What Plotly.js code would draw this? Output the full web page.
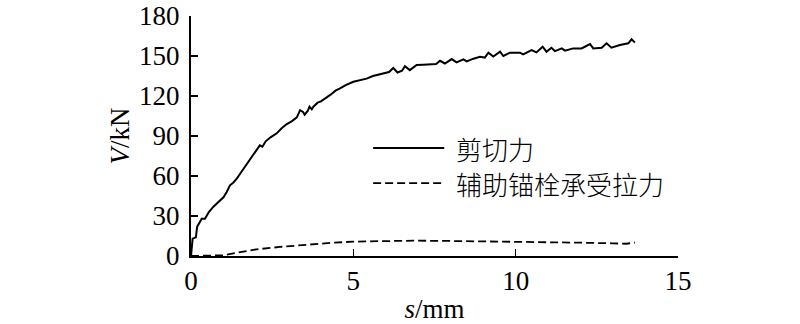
<!DOCTYPE html>
<html>
<head>
<meta charset="utf-8">
<script src="https://cdn.plot.ly/plotly-3.0.1.min.js"></script>
<style>html,body{margin:0;padding:0;background:#fff;}#chart{width:800px;height:324px;}</style>
</head>
<body>
<div id="chart"></div>
<script>
// Shear force curve (s in mm, V in kN)
const shearS = [0,0.03,0.05,0.15,0.19,0.26,0.33,0.43,0.55,0.69,0.85,1.0,1.1,1.2,1.3,1.41,1.55,1.72,1.9,2.05,2.12,2.2,2.3,2.45,2.64,2.8,2.95,3.1,3.26,3.36,3.45,3.5,3.6,3.65,3.72,3.77,3.9,4.0,4.1,4.18,4.3,4.45,4.59,4.75,5.0,5.2,5.41,5.6,5.82,6.0,6.1,6.23,6.36,6.5,6.59,6.74,6.95,7.15,7.36,7.55,7.67,7.82,8.03,8.18,8.39,8.49,8.7,8.9,9.05,9.16,9.31,9.52,9.62,9.82,10.13,10.23,10.49,10.64,10.83,10.95,11.1,11.21,11.42,11.52,11.77,12.03,12.29,12.39,12.65,12.8,12.95,13.21,13.47,13.57,13.67];
const shearV = [0,8,13,14,22,25,28,28,33,37,41,44,48,53,55,58,63,69,75,81,83,82,86,89,92,96,99,101,104,109.4,108,106,109,112,110,112,115,116,118,119,121,124,125.7,128,130.7,132,133,135,136.4,137,138,141,137.6,139,142.4,139.4,143.2,143.5,143.7,144,146.4,144.4,147.7,145.2,147.5,146,148,149.5,148.8,152.5,149.6,153.2,150,152.5,152.5,151.2,154.5,152.7,157,153.2,156.2,153.7,155.7,154,155.7,155.7,159,155.7,156.2,159.5,156.2,158.2,159.5,162.5,160.2];
// Tension carried by auxiliary anchor bolt
const tensionS = [0,0.5,1.0,1.41,2.02,2.74,3.56,4.28,5.0,5.82,6.85,7.88,8.9,9.93,10.96,11.98,13.0,13.4,13.67];
const tensionV = [0,0.1,0.5,2.5,5,6.8,8.5,9.8,10.8,11.3,11.5,11.3,11,11,10.5,10,9.5,9.2,10];
const seriesNames = ['剪切力','辅助锚栓承受拉力'];
const xTicks = [0,5,10,15];
const yTicks = [0,30,60,90,120,150,180];

const serif = 'Liberation Serif';
const cjk = 'Noto Sans CJK SC';

const traces = [
  {x: shearS, y: shearV, name: seriesNames[0], mode: 'lines', line: {color: '#000', width: 2}, showlegend: false},
  {x: tensionS, y: tensionV, name: seriesNames[1], mode: 'lines', line: {color: '#000', width: 1.8, dash: '8px,4px'}, showlegend: false}
];

// Manual legend (longer sample lines than Plotly's built-in legend)
const legRows = [
  {y: 0.45, dash: 'solid', w: 2},
  {y: 0.304, dash: '8px,4px', w: 1.8}
];
const shapes = legRows.map(r => ({type: 'line', xref: 'paper', yref: 'paper', x0: 0.374, x1: 0.52, y0: r.y, y1: r.y, line: {color: '#000', width: r.w, dash: r.dash}}));
const annotations = legRows.map((r, i) => ({xref: 'paper', yref: 'paper', x: 0.54, y: r.y, xanchor: 'left', yanchor: 'middle', showarrow: false, text: seriesNames[i], font: {family: cjk, size: 26, color: '#000', weight: 300}}));

function axisBase() {
  return {
    showgrid: false, zeroline: false, showline: true, linecolor: '#000', linewidth: 2,
    ticks: 'inside', ticklen: 7, tickwidth: 1.5, tickcolor: '#000',
    tickfont: {family: serif, size: 27, color: '#000'}, automargin: false
  };
}

const xaxis = axisBase();
xaxis.range = [0, 15];
xaxis.tickvals = xTicks;
xaxis.ticktext = xTicks.map(String);
xaxis.ticklabelstandoff = 0;
xaxis.title = {text: '<i>s</i>/mm', font: {family: serif, size: 27, color: '#000'}, standoff: 6};

const yaxis = axisBase();
yaxis.range = [0, 180];
yaxis.tickvals = yTicks;
yaxis.ticktext = yTicks.map(String);
yaxis.ticklabelstandoff = 4;
yaxis.title = {text: '<i>V</i>/kN', font: {family: serif, size: 27, color: '#000'}, standoff: 2};

const layout = {
  width: 800, height: 324,
  margin: {l: 191, r: 122, t: 16, b: 68},
  paper_bgcolor: '#fff', plot_bgcolor: '#fff',
  font: {family: serif, color: '#000', size: 27},
  showlegend: false,
  xaxis: xaxis,
  yaxis: yaxis,
  shapes: shapes,
  annotations: annotations
};

Plotly.newPlot('chart', traces, layout, {displayModeBar: false, staticPlot: true});
</script>
</body>
</html>
